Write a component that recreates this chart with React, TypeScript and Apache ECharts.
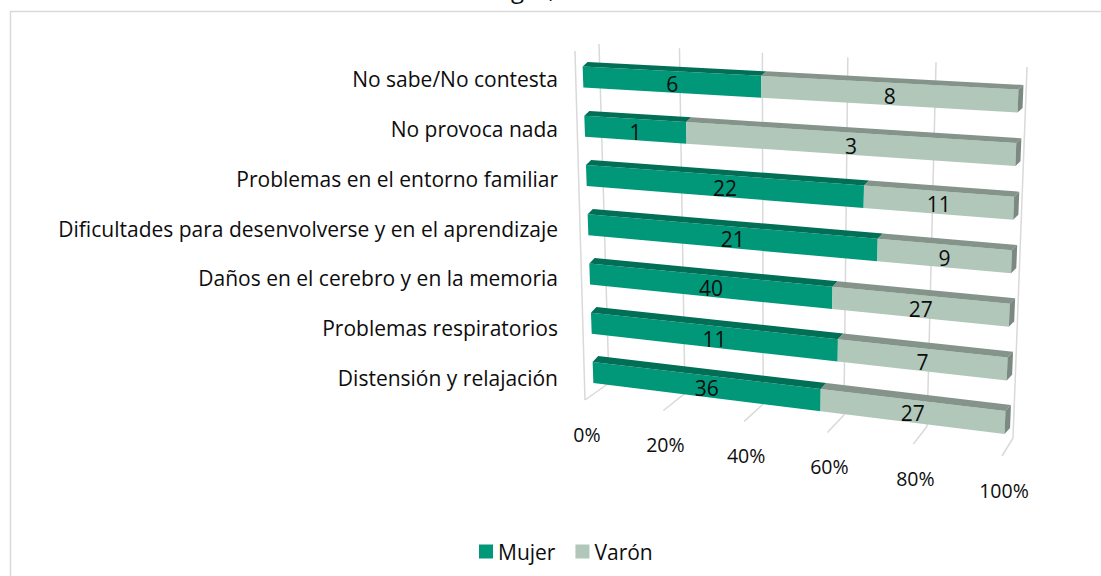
import React, { useEffect, useRef } from "react";
import * as echarts from "echarts";

// ---------- data ----------
const categories = [
  "No sabe/No contesta",
  "No provoca nada",
  "Problemas en el entorno familiar",
  "Dificultades para desenvolverse y en el aprendizaje",
  "Daños en el cerebro y en la memoria",
  "Problemas respiratorios",
  "Distensión y relajación",
];
const mujer = [6, 1, 22, 21, 40, 11, 36];
const varon = [8, 3, 11, 9, 27, 7, 27];
const tickValues = [0, 20, 40, 60, 80, 100];
const seriesNames = ["Mujer", "Varón"];

// ---------- styles ----------
const COLORS = {
  mujerFront: "#009878",
  mujerTop: "#006F56",
  varonFront: "#B0C7BA",
  varonTop: "#84948B",
  varonSide: "#7A8981",
  grid: "#D9D9D9",
  text: "#0D0D0D",
  border: "#D9D9D9",
};
const FONT = "'Open Sans', 'Noto Sans', sans-serif";

// ---------- pseudo-3D projection layout (screen quads of the planes) ----------
const BAR_PLANE = { tl: [583, 77], tr: [1018, 101], bl: [593, 372.5], br: [1005, 422.5] };
const BACK_WALL = { tl: [599, 44], tr: [1027, 67], bl: [609, 383], br: [1013, 438] };
const FLOOR_FRONT = { l: [585, 400], r: [1002, 456] };
const SIDE_EDGE_TOP = [575, 51];
const DEPTH_TOP = [5, -4.5];
const DEPTH_BOTTOM = [5.5, -6];
const PERSPECTIVE = 1.08;
const BAR_RATIO = 0.43;
const LABEL_OFFSET = [2, 34];

const fore = (u: number) => u / (u + PERSPECTIVE * (1 - u));
const lerp = (a: number[], b: number[], t: number) => [a[0] + (b[0] - a[0]) * t, a[1] + (b[1] - a[1]) * t];
const bil = (q: any, F: number, w: number) => {
  const top = lerp(q.tl, q.tr, F);
  const bot = lerp(q.bl, q.br, F);
  return lerp(top, bot, w);
};
const add = (p: number[], d: number[]) => [p[0] + d[0], p[1] + d[1]];

function buildSegments(which: number) {
  return categories.map((_, i) => {
    const total = mujer[i] + varon[i];
    const mPct = (mujer[i] / total) * 100;
    return which === 0 ? [0, mPct, i, mujer[i]] : [mPct, 100, i, varon[i]];
  });
}

function makeBarRender(front: string, top: string, side: string | null) {
  return (params: any, api: any) => {
    const cs = params.coordSys;
    const start = api.value(0);
    const end = api.value(1);
    const cat = api.value(2);
    const raw = api.value(3);
    const p0 = api.coord([start, cat]);
    const p1 = api.coord([end, cat]);
    const y0 = api.coord([0, 0])[1];
    const yN = api.coord([0, categories.length - 1])[1];
    const half = (api.size([0, 1])[1] * BAR_RATIO) / 2;
    const wc = (p0[1] - y0) / (yN - y0);
    const dw = half / (yN - y0);
    const F0 = fore((p0[0] - cs.x) / cs.width);
    const F1 = fore((p1[0] - cs.x) / cs.width);
    const depth = lerp(DEPTH_TOP, DEPTH_BOTTOM, wc);
    const ftl = bil(BAR_PLANE, F0, wc - dw);
    const ftr = bil(BAR_PLANE, F1, wc - dw);
    const fbr = bil(BAR_PLANE, F1, wc + dw);
    const fbl = bil(BAR_PLANE, F0, wc + dw);
    const children: any[] = [
      { type: "polygon", shape: { points: [ftl, ftr, fbr, fbl] }, style: { fill: front } },
      { type: "polygon", shape: { points: [ftl, ftr, add(ftr, depth), add(ftl, depth)] }, style: { fill: top } },
    ];
    if (side) {
      children.push({
        type: "polygon",
        shape: { points: [ftr, fbr, add(fbr, depth), add(ftr, depth)] },
        style: { fill: side },
      });
    }
    const cx = (ftl[0] + ftr[0] + fbr[0] + fbl[0]) / 4;
    const cy = (ftl[1] + ftr[1] + fbr[1] + fbl[1]) / 4;
    children.push({
      type: "text",
      style: {
        text: String(raw),
        x: cx,
        y: cy + 2,
        align: "center",
        verticalAlign: "middle",
        fontSize: 21,
        fontFamily: FONT,
        fill: COLORS.text,
      },
    });
    return { type: "group", children };
  };
}

function tickRender(params: any, api: any) {
  const cs = params.coordSys;
  const v = api.value(0);
  const p = api.coord([v, 0]);
  const F = fore((p[0] - cs.x) / cs.width);
  const top = bil(BACK_WALL, F, 0);
  const bot = bil(BACK_WALL, F, 1);
  const front = lerp(FLOOR_FRONT.l, FLOOR_FRONT.r, F);
  const lineStyle = { stroke: COLORS.grid, lineWidth: 1.5 };
  const children: any[] = [
    { type: "line", shape: { x1: top[0], y1: top[1], x2: bot[0], y2: bot[1] }, style: lineStyle },
    { type: "line", shape: { x1: bot[0], y1: bot[1], x2: front[0], y2: front[1] }, style: lineStyle },
  ];
  if (params.dataIndex === 0) {
    children.push({
      type: "line",
      shape: { x1: SIDE_EDGE_TOP[0], y1: SIDE_EDGE_TOP[1], x2: front[0], y2: front[1] },
      style: lineStyle,
    });
  }
  children.push({
    type: "text",
    style: {
      text: `${v}%`,
      x: front[0] + LABEL_OFFSET[0],
      y: front[1] + LABEL_OFFSET[1],
      align: "center",
      verticalAlign: "middle",
      fontSize: 19.5,
      fontFamily: FONT,
      fill: COLORS.text,
    },
  });
  return { type: "group", children };
}

export default function App() {
  const ref = useRef<HTMLDivElement>(null);
  useEffect(() => {
    if (!ref.current) return;
    const chart = echarts.init(ref.current, undefined, { renderer: "svg" });
    const option: any = {
      animation: false,
      backgroundColor: "#ffffff",
      grid: { left: 588, top: 54.1, width: 420, height: 348.8, containLabel: false },
      xAxis: { type: "value", min: 0, max: 100, interval: 20, show: false },
      yAxis: {
        type: "category",
        data: categories,
        inverse: true,
        axisLine: { show: false },
        axisTick: { show: false },
        splitLine: { show: false },
        axisLabel: { margin: 30, fontSize: 21, fontFamily: FONT, color: COLORS.text },
      },
      legend: {
        data: seriesNames,
        left: 474,
        top: 536,
        icon: "rect",
        itemWidth: 14,
        itemHeight: 14,
        itemGap: 20,
        textStyle: { fontSize: 21, fontFamily: FONT, color: COLORS.text },
      },
      graphic: [
        {
          type: "rect",
          shape: { x: 10.5, y: 11.5, width: 1200, height: 700 },
          style: { fill: "none", stroke: COLORS.border, lineWidth: 1.5 },
          silent: true,
        },
        {
          type: "text",
          x: 511,
          y: -12,
          style: { text: "gas,", fontSize: 24, fontFamily: FONT, fill: COLORS.text, verticalAlign: "middle" },
          silent: true,
        },
      ],
      series: [
        {
          type: "custom",
          name: "ticks",
          clip: false,
          silent: true,
          data: tickValues.map((v) => [v, 0]),
          encode: { x: 0, y: 1 },
          renderItem: tickRender,
          z: 1,
        },
        {
          type: "custom",
          name: seriesNames[0],
          clip: false,
          itemStyle: { color: COLORS.mujerFront },
          data: buildSegments(0),
          encode: { x: [0, 1], y: 2 },
          renderItem: makeBarRender(COLORS.mujerFront, COLORS.mujerTop, null),
          z: 2,
        },
        {
          type: "custom",
          name: seriesNames[1],
          clip: false,
          itemStyle: { color: COLORS.varonFront },
          data: buildSegments(1),
          encode: { x: [0, 1], y: 2 },
          renderItem: makeBarRender(COLORS.varonFront, COLORS.varonTop, COLORS.varonSide),
          z: 2,
        },
      ],
    };
    chart.setOption(option);
    return () => chart.dispose();
  }, []);
  return <div ref={ref} style={{ position: "fixed", left: 0, top: 0, width: 1101, height: 576 }} />;
}
